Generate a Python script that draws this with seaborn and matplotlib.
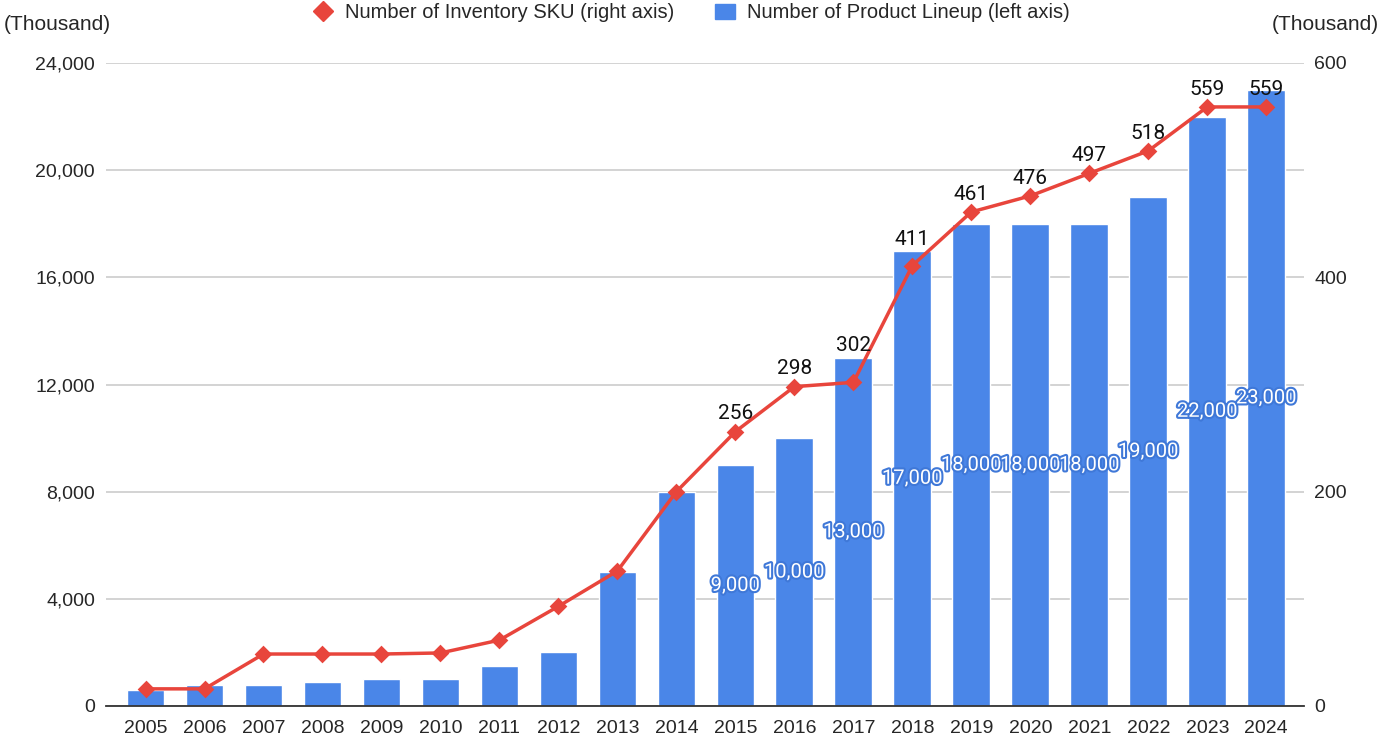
import seaborn as sns
import matplotlib.pyplot as plt
import matplotlib.patheffects as pe
from matplotlib.lines import Line2D
from matplotlib.patches import Patch
import pandas as pd

years = [str(y) for y in range(2005, 2025)]
lineup = [600, 800, 800, 900, 1000, 1000, 1500, 2000, 5000, 8000,
          9000, 10000, 13000, 17000, 18000, 18000, 18000, 19000, 22000, 23000]
sku = [16, 16, 48.5, 48.5, 48.5, 49.5, 61.5, 93, 126, 200,
       256, 298, 302, 411, 461, 476, 497, 518, 559, 559]
# only the later points carry a visible label
labelled_from = "2015"
# labels pushed up to clear the bar top
extra_lift = {"2017": 14, "2018": 6}

BLUE = "#4a86e8"
RED = "#e8453c"

sns.set_theme(style="white")
plt.rcParams["font.family"] = ["Liberation Sans", "DejaVu Sans"]

df = pd.DataFrame({"year": years, "lineup": lineup, "sku": sku})

fig = plt.figure(figsize=(13.83, 7.41), dpi=100)
ax = fig.add_axes([106 / 1383, 35 / 741, 1198 / 1383, 643 / 741])

sns.barplot(data=df, x="year", y="lineup", color=BLUE, saturation=1,
            width=0.64, ax=ax, zorder=2)
ax.set_ylim(0, 24000)
ax.set_yticks(range(0, 24001, 4000))
ax.set_yticklabels([f"{v:,}" for v in range(0, 24001, 4000)])
ax.set_xlim(-0.67, 19.64)
ax.grid(axis="y", color="#cccccc", linewidth=1.2, zorder=0)
ax.set_axisbelow(True)
for s in ["left", "right", "top"]:
    ax.spines[s].set_visible(False)
ax.spines["bottom"].set_color("#333333")
ax.spines["bottom"].set_linewidth(1.3)
ax.spines["bottom"].set_zorder(3)
ax.tick_params(axis="y", length=0, pad=8, labelsize=14)
ax.tick_params(axis="x", length=0, pad=10, labelsize=14)
ax.set_xlabel("")
ax.set_ylabel("")

ax2 = ax.twinx()
sns.pointplot(data=df, x="year", y="sku", color=RED, markers="D",
              markersize=7, linewidth=2.5, ax=ax2)
ax2.set_ylim(0, 600)
ax2.set_yticks([0, 200, 400, 600])
ax2.set_xlim(-0.67, 19.64)
ax2.tick_params(axis="y", length=0, pad=7.5, labelsize=14)
ax2.set_ylabel("")
ax2.set_xlabel("")
for s in ax2.spines.values():
    s.set_visible(False)
ax2.grid(False)

# bar value labels, centred in each bar (only where they show)
for i, (yr, v) in enumerate(zip(years, lineup)):
    if yr >= labelled_from:
        ax.text(i, v / 2, f"{v:,}", ha="center", va="center", color="white",
                fontsize=14.5, family=["Roboto", "DejaVu Sans"], zorder=5,
                path_effects=[pe.withStroke(linewidth=3, foreground="#3f78d8")])

# sku labels above the markers
for i, (yr, v) in enumerate(zip(years, sku)):
    if yr >= labelled_from:
        ax2.annotate(f"{v:g}", (i, v), xytext=(0, 6 + extra_lift.get(yr, 0)),
                     textcoords="offset points", ha="center", va="bottom",
                     fontsize=15, color="#111111",
                     family=["Roboto", "DejaVu Sans"])

fig.text(4 / 1383, 1 - 25 / 741, "(Thousand)", ha="left", va="center", fontsize=15)
fig.text(1379 / 1383, 1 - 25 / 741, "(Thousand)", ha="right", va="center", fontsize=15)

handles = [
    Line2D([], [], marker="D", color=RED, linestyle="none", markersize=10),
    Patch(facecolor=BLUE, edgecolor=BLUE),
]
fig.legend(handles, ["Number of Inventory SKU (right axis)",
                     "Number of Product Lineup (left axis)"],
           loc="center", bbox_to_anchor=(0.5, 1 - 13 / 741), ncol=2,
           frameon=False, fontsize=14.5, handlelength=1.0, handletextpad=0.6,
           columnspacing=2.0)

fig.savefig("out.png", dpi=100)
